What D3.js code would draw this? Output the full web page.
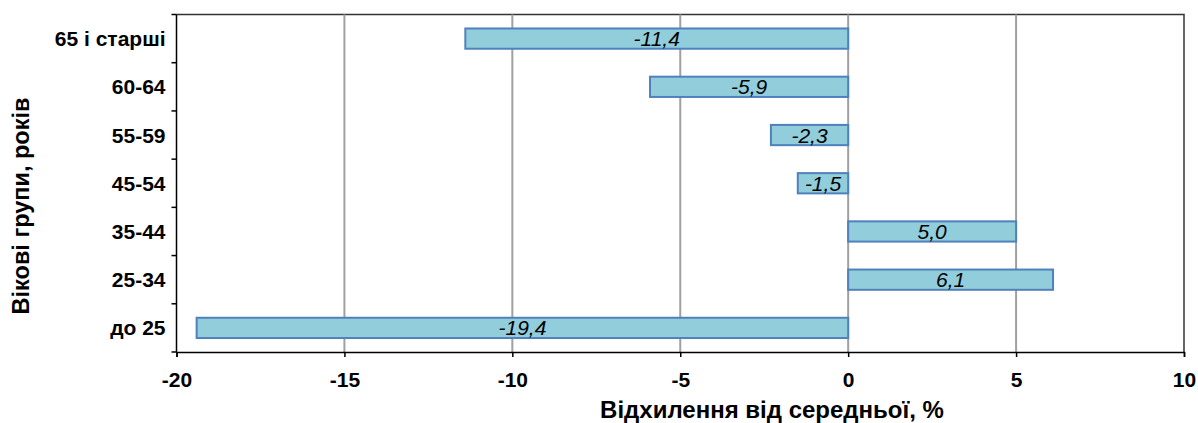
<!DOCTYPE html>
<html>
<head>
<meta charset="utf-8">
<script src="https://cdn.jsdelivr.net/npm/d3@7"></script>
<style>
  html, body { margin: 0; padding: 0; background: #fff; }
  svg { display: block; font-family: "Liberation Sans", Arial, sans-serif; }
</style>
</head>
<body>
<svg id="chart" width="1198" height="423"></svg>
<script>
// Age groups, top to bottom
const groups = ["65 і старші", "60-64", "55-59", "45-54", "35-44", "25-34", "до 25"];
// Deviation from the average, %
const deviations = [-11.4, -5.9, -2.3, -1.5, 5.0, 6.1, -19.4];
const xTicks = [-20, -15, -10, -5, 0, 5, 10];

const svg = d3.select("#chart");
const margin = { left: 176.5, right: 14, top: 14.5, bottom: 71 };
const W = 1198, H = 423;

const x = d3.scaleLinear().domain([-20, 10]).range([margin.left, W - margin.right]);
const y = d3.scaleBand().domain(groups).range([margin.top, H - margin.bottom]).paddingInner(0.58).paddingOuter(0.29);

const fmt = v => v.toFixed(1).replace(".", ",");

// plot frame (top and right)
svg.append("path")
  .attr("d", `M${margin.left},${margin.top}H${W - margin.right}V${H - margin.bottom}`)
  .attr("fill", "none").attr("stroke", "#333").attr("stroke-width", 1.5);

// vertical gridlines
svg.append("g").selectAll("line")
  .data(xTicks.filter(t => t > -20 && t < 10))
  .join("line")
  .attr("x1", d => x(d)).attr("x2", d => x(d))
  .attr("y1", margin.top).attr("y2", H - margin.bottom)
  .attr("stroke", "#a0a0a0").attr("stroke-width", 2);

// bars
svg.append("g").selectAll("rect")
  .data(groups.map((g, i) => ({ g, v: deviations[i] })))
  .join("rect")
  .attr("x", d => x(Math.min(0, d.v)))
  .attr("width", d => Math.abs(x(d.v) - x(0)))
  .attr("y", d => y(d.g))
  .attr("height", y.bandwidth())
  .attr("fill", "#92cddc")
  .attr("stroke", "#4f81bd")
  .attr("stroke-width", 2);

// value labels
svg.append("g").selectAll("text")
  .data(groups.map((g, i) => ({ g, v: deviations[i] })))
  .join("text")
  .attr("x", d => (x(d.v) + x(0)) / 2)
  .attr("y", d => y(d.g) + y.bandwidth() / 2)
  .attr("dy", "0.36em")
  .attr("text-anchor", "middle")
  .attr("font-style", "italic")
  .attr("font-size", 21)
  .attr("fill", "#000")
  .text(d => fmt(d.v));

// x axis
const xAxis = svg.append("g")
  .attr("transform", `translate(0,${H - margin.bottom})`)
  .call(d3.axisBottom(x).tickValues(xTicks).tickSize(5).tickPadding(15).tickFormat(d3.format("d")));
xAxis.select(".domain").attr("stroke", "#000").attr("stroke-width", 1.5);
xAxis.selectAll(".tick line").attr("stroke", "#000").attr("stroke-width", 1.5);
xAxis.selectAll("text").attr("font-size", 21).attr("font-weight", "bold")
  .attr("font-family", "'Liberation Sans', Arial, sans-serif").attr("fill", "#000")
  .text(d => d < 0 ? "-" + Math.abs(d) : d);

// y axis: ticks between categories
const yAxis = svg.append("g").attr("transform", `translate(${margin.left},0)`);
yAxis.append("line")
  .attr("x1", 0).attr("x2", 0).attr("y1", margin.top).attr("y2", H - margin.bottom)
  .attr("stroke", "#000").attr("stroke-width", 1.5);
const boundaries = d3.range(groups.length + 1).map(i => margin.top + i * (H - margin.bottom - margin.top) / groups.length);
yAxis.selectAll("line.tk").data(boundaries).join("line").attr("class", "tk")
  .attr("x1", -5).attr("x2", 0).attr("y1", d => d).attr("y2", d => d)
  .attr("stroke", "#000").attr("stroke-width", 1.5);
yAxis.selectAll("text").data(groups).join("text")
  .attr("x", -11)
  .attr("y", d => y(d) + y.bandwidth() / 2)
  .attr("dy", "0.36em")
  .attr("text-anchor", "end")
  .attr("font-size", 21).attr("font-weight", "bold").attr("fill", "#000")
  .text(d => d);

// axis titles
svg.append("text")
  .attr("x", 772).attr("y", 409.5)
  .attr("dy", "0.36em")
  .attr("text-anchor", "middle")
  .attr("font-size", 24).attr("font-weight", "bold")
  .text("Відхилення від середньої, %");

svg.append("text")
  .attr("transform", `translate(21,206) rotate(-90)`)
  .attr("dy", "0.36em")
  .attr("text-anchor", "middle")
  .attr("font-size", 23.5).attr("font-weight", "bold")
  .text("Вікові групи, років");
</script>
</body>
</html>
